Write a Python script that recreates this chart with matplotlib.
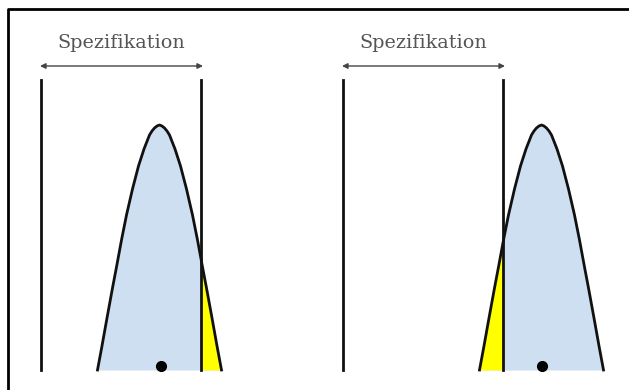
import numpy as np
import matplotlib.pyplot as plt
from matplotlib.patches import Rectangle

# positions in reference pixels, y measured upwards from the image bottom
baseline = 20
spec_top = 310
spec_low = [41, 343]      # left spec line of each panel
spec_high = [201, 503]    # right spec line of each panel
proc_mean = [159.5, 541.5]
dot_x = [161, 541.5]
dot_y = 24
arrow_y = 324
label_y = 347
label = 'Spezifikation'

# half profile of the distribution curve (offset from mean, height)
profile_dx = [0, 2.5, 5, 7.5, 10, 15.5, 21, 27, 33, 38, 43, 47, 52.5, 57.7, 62]
profile_h = [245, 244, 242, 239, 235, 221, 204, 181, 155, 130, 103, 82, 52, 23, 0]

fig = plt.figure(figsize=(6.29, 3.9), dpi=100)
ax = fig.add_axes([0, 0, 1, 1])
ax.set_xlim(0, 629)
ax.set_ylim(0, 390)
ax.axis('off')

dx = np.array(profile_dx)
h = np.array(profile_h)
dx_full = np.concatenate([-dx[::-1], dx[1:]])
h_full = np.concatenate([h[::-1], h[1:]])

for i in range(2):
    x = proc_mean[i] + dx_full
    y = baseline + h_full
    ax.fill_between(x, baseline, y, color='#cddff0', lw=0, zorder=1)
    yel = ax.fill_between(x, baseline, y, color='#ffff00', lw=0, zorder=2)
    # yellow part: right of the line in the left panel, left of it in the right panel
    if i == 0:
        clip = Rectangle((spec_high[i], 0), 500, 500, transform=ax.transData)
    else:
        clip = Rectangle((spec_high[i] - 500, 0), 500, 500, transform=ax.transData)
    yel.set_clip_path(clip)
    ax.plot(x, y, color='#111111', lw=2, zorder=4, solid_joinstyle='round')
    ax.plot([spec_low[i], spec_low[i]], [baseline, spec_top], color='#111111', lw=2, zorder=3)
    ax.plot([spec_high[i], spec_high[i]], [baseline, spec_top], color='#111111', lw=2, zorder=3)
    ax.plot(dot_x[i], dot_y, 'o', color='black', ms=7, zorder=5)
    ax.annotate('', xy=(spec_low[i] - 1, arrow_y), xytext=(spec_high[i] + 2, arrow_y),
                arrowprops=dict(arrowstyle='<|-|>', color='#444444', lw=1,
                                mutation_scale=8, shrinkA=0, shrinkB=0))
    ax.text((spec_low[i] + spec_high[i]) / 2, label_y, label, ha='center', va='center',
            fontsize=13.8, color='#555555', family='DejaVu Serif')

# frame of the original slide (cut off on the right and bottom)
ax.plot([8, 8, 640], [-5, 381, 381], color='black', lw=2, clip_on=False)

plt.savefig('out.png', dpi=100)
